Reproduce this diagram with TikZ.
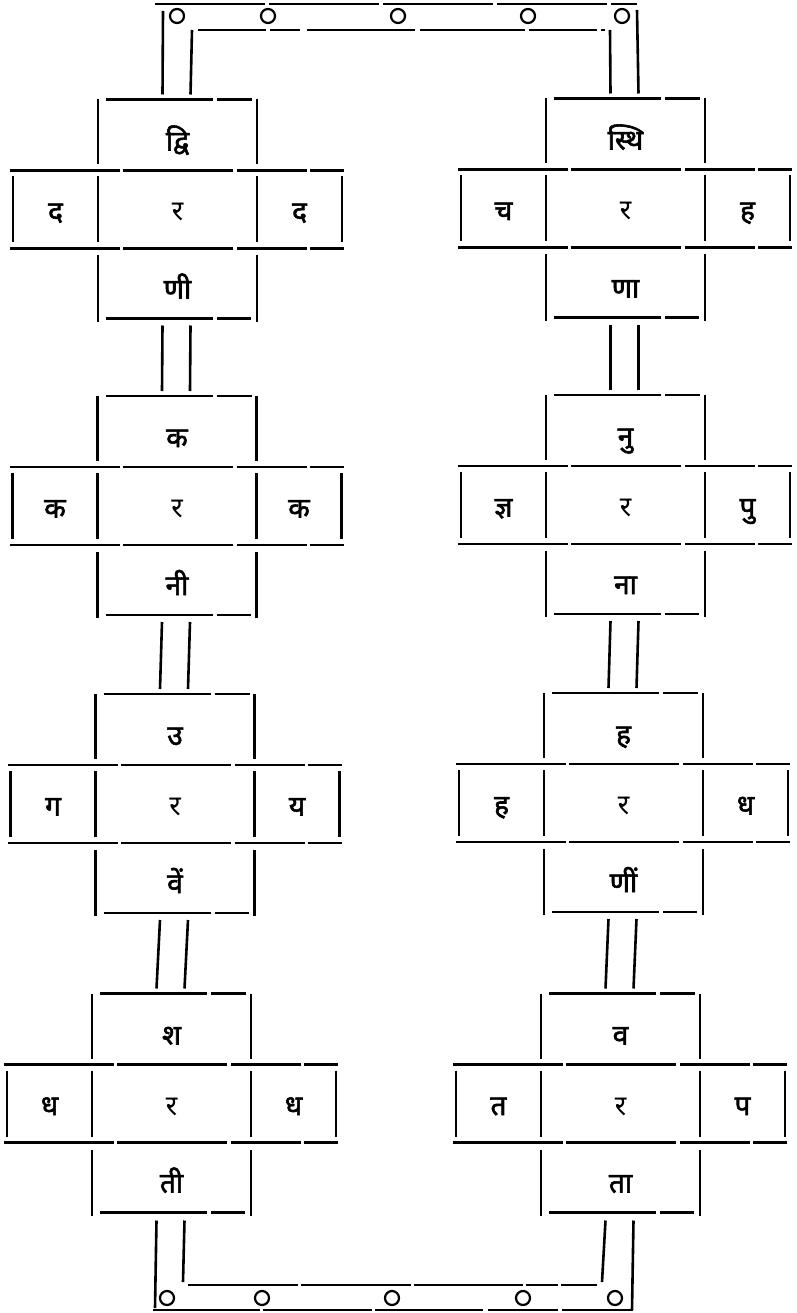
\documentclass[tikz,border=0pt]{standalone}
\usepackage{fontspec}
\newfontfamily\deva[Script=Devanagari, FakeBold=2]{Noto Sans}
\newfontfamily\devathin[Script=Devanagari]{Noto Sans}
\usetikzlibrary{positioning}

\begin{document}
\begin{tikzpicture}[
  x=1pt, y=-1pt,
  every node/.style={inner sep=0pt, outer sep=0pt,
    font=\deva\fontsize{28}{30}\selectfont},
  corecell/.style={minimum width=159pt, minimum height=78pt,
    text height=26pt, text depth=3pt, font=\devathin\fontsize{28}{30}\selectfont},
  sidecell/.style={minimum width=85pt, minimum height=78pt,
    text height=26pt, text depth=3pt},
  topcell/.style={minimum width=159pt, minimum height=71pt,
    text height=34pt, text depth=3pt},
  footcell/.style={minimum width=159pt, minimum height=70pt,
    text height=33pt, text depth=3pt},
  stem/.style={line width=2.6pt},
  lid/.style={line width=2.6pt, dash pattern=on 107pt off 4pt},
  beam/.style={line width=2.6pt,
    dash pattern=on 110pt off 3pt on 110pt off 4pt on 70pt off 3pt on 60pt},
  rail/.style={line width=2.6pt},
  ring/.style={circle, draw, line width=2.2pt, minimum size=14pt}]

  \useasboundingbox (0,0) rectangle (796,1313);

  % Left column of crosses
  \node[corecell] (l1-c) at (177.5,209.5) {र};
  \node[topcell,above=0pt of l1-c] (l1-n) {द्वि};
  \node[sidecell,left=0pt of l1-c] (l1-w) {द};
  \node[sidecell,right=0pt of l1-c] (l1-e) {द};
  \node[footcell,below=0pt of l1-c] (l1-s) {णी};

  \node[corecell] (l2-c) at (177,506) {र};
  \node[topcell,above=0pt of l2-c] (l2-n) {क};
  \node[sidecell,left=0pt of l2-c] (l2-w) {क};
  \node[sidecell,right=0pt of l2-c] (l2-e) {क};
  \node[footcell,below=0pt of l2-c] (l2-s) {नी};

  \node[corecell] (l3-c) at (175,804) {र};
  \node[topcell,above=0pt of l3-c] (l3-n) {उ};
  \node[sidecell,left=0pt of l3-c] (l3-w) {ग};
  \node[sidecell,right=0pt of l3-c] (l3-e) {य};
  \node[footcell,below=0pt of l3-c] (l3-s) {वें};

  \node[corecell] (l4-c) at (171.5,1103.5) {र};
  \node[topcell,above=0pt of l4-c] (l4-n) {श};
  \node[sidecell,left=0pt of l4-c] (l4-w) {ध};
  \node[sidecell,right=0pt of l4-c] (l4-e) {ध};
  \node[footcell,below=0pt of l4-c] (l4-s) {ती};

  % Right column of crosses
  \node[corecell] (r1-c) at (625.5,208.5) {र};
  \node[topcell,above=0pt of r1-c] (r1-n) {स्थि};
  \node[sidecell,left=0pt of r1-c] (r1-w) {च};
  \node[sidecell,right=0pt of r1-c] (r1-e) {ह};
  \node[footcell,below=0pt of r1-c] (r1-s) {णा};

  \node[corecell] (r2-c) at (625.5,505) {र};
  \node[topcell,above=0pt of r2-c] (r2-n) {नु};
  \node[sidecell,left=0pt of r2-c] (r2-w) {ज्ञ};
  \node[sidecell,right=0pt of r2-c] (r2-e) {पु};
  \node[footcell,below=0pt of r2-c] (r2-s) {ना};

  \node[corecell] (r3-c) at (623.5,803) {र};
  \node[topcell,above=0pt of r3-c] (r3-n) {ह};
  \node[sidecell,left=0pt of r3-c] (r3-w) {ह};
  \node[sidecell,right=0pt of r3-c] (r3-e) {ध};
  \node[footcell,below=0pt of r3-c] (r3-s) {णीं};

  \node[corecell] (r4-c) at (620.5,1103.5) {र};
  \node[topcell,above=0pt of r4-c] (r4-n) {व};
  \node[sidecell,left=0pt of r4-c] (r4-w) {त};
  \node[sidecell,right=0pt of r4-c] (r4-e) {प};
  \node[footcell,below=0pt of r4-c] (r4-s) {ता};

  % Rules of every cross
  \foreach \c in {l1,l2,l3,l4,r1,r2,r3,r4} {
    \draw[lid] ([xshift=8pt]\c-n.north west) -- ([xshift=-5pt]\c-n.north east);
    \draw[stem] (\c-n.north west) -- ([yshift=6pt]\c-n.south west);
    \draw[stem] (\c-n.north east) -- ([yshift=6pt]\c-n.south east);
    \draw[beam] ([xshift=-3pt]\c-w.north west) -- ([xshift=2pt]\c-e.north east);
    \draw[beam] ([xshift=-3pt]\c-w.south west) -- ([xshift=2pt]\c-e.south east);
    \draw[stem] ([yshift=-6pt]\c-w.north west) -- ([yshift=6pt]\c-w.south west);
    \draw[stem] ([yshift=-6pt]\c-c.north west) -- ([yshift=6pt]\c-c.south west);
    \draw[stem] ([yshift=-6pt]\c-c.north east) -- ([yshift=6pt]\c-c.south east);
    \draw[stem] ([yshift=-6pt]\c-e.north east) -- ([yshift=6pt]\c-e.south east);
    \draw[stem] ([yshift=-7pt]\c-s.north west) -- ([yshift=-3pt]\c-s.south west);
    \draw[stem] ([yshift=-7pt]\c-s.north east) -- ([yshift=-3pt]\c-s.south east);
    \draw[lid] ([xshift=8pt]\c-s.south west) -- ([xshift=-6pt]\c-s.south east);
  }

  % Double links from one cross to the next
  \foreach \a/\b in {l1/l2,l2/l3,l3/l4,r1/r2,r2/r3,r3/r4} {
    \draw[stem] ([xshift=-15pt,yshift=-7pt]\a-s.south) -- ([xshift=-15pt,yshift=5pt]\b-n.north);
    \draw[stem] ([xshift=13pt,yshift=-7pt]\a-s.south) -- ([xshift=13pt,yshift=5pt]\b-n.north);
  }

  % Frame on top
  \coordinate (top-lo) at (163,11);
  \coordinate (top-li) at (192,30);
  \coordinate (top-ri) at (610,30);
  \coordinate (top-ro) at (637,10);
  \draw[rail, dash pattern=on 110pt off 4pt] (155,4) -- (637,4);
  \draw[rail, dash pattern=on 68pt off 4pt on 30pt off 7pt on 108pt off 5pt on 105pt off 4pt]
    (198,30) -- (605,30);
  \draw[stem] (top-lo) -- ([xshift=-15pt,yshift=5pt]l1-n.north);
  \draw[stem] (top-li) -- ([xshift=13pt,yshift=5pt]l1-n.north);
  \draw[stem] (top-ri) -- ([xshift=-15pt,yshift=5pt]r1-n.north);
  \draw[stem] (top-ro) -- ([xshift=13pt,yshift=5pt]r1-n.north);
  \foreach \n/\x in {1/177,2/268,3/398,4/528,5/622}
    \node[ring] (top-\n) at (\x,16) {};

  % Frame at the bottom
  \coordinate (bot-lo) at (155,1308);
  \coordinate (bot-li) at (183,1282);
  \coordinate (bot-ri) at (602,1282);
  \coordinate (bot-ro) at (632,1310);
  \draw[stem] ([xshift=-15pt,yshift=-8pt]l4-s.south) -- (bot-lo);
  \draw[stem] ([xshift=13pt,yshift=-8pt]l4-s.south) -- (bot-li);
  \draw[stem] ([xshift=-15pt,yshift=-8pt]r4-s.south) -- (bot-ri);
  \draw[stem] ([xshift=13pt,yshift=-8pt]r4-s.south) -- (bot-ro);
  \draw[rail, dash pattern=on 110pt off 3pt on 110pt off 3pt on 109pt off 3pt on 32pt off 3pt on 40pt]
    (188,1285) -- (597,1285);
  \draw[rail, dash pattern=on 107pt off 3pt on 109pt off 3pt on 108pt off 5pt on 70pt off 4pt on 80pt]
    (153,1310) -- (633,1310);
  \foreach \n/\x in {1/167,2/262,3/392,4/523,5/615}
    \node[ring] (bot-\n) at (\x,1298) {};
\end{tikzpicture}
\end{document}
